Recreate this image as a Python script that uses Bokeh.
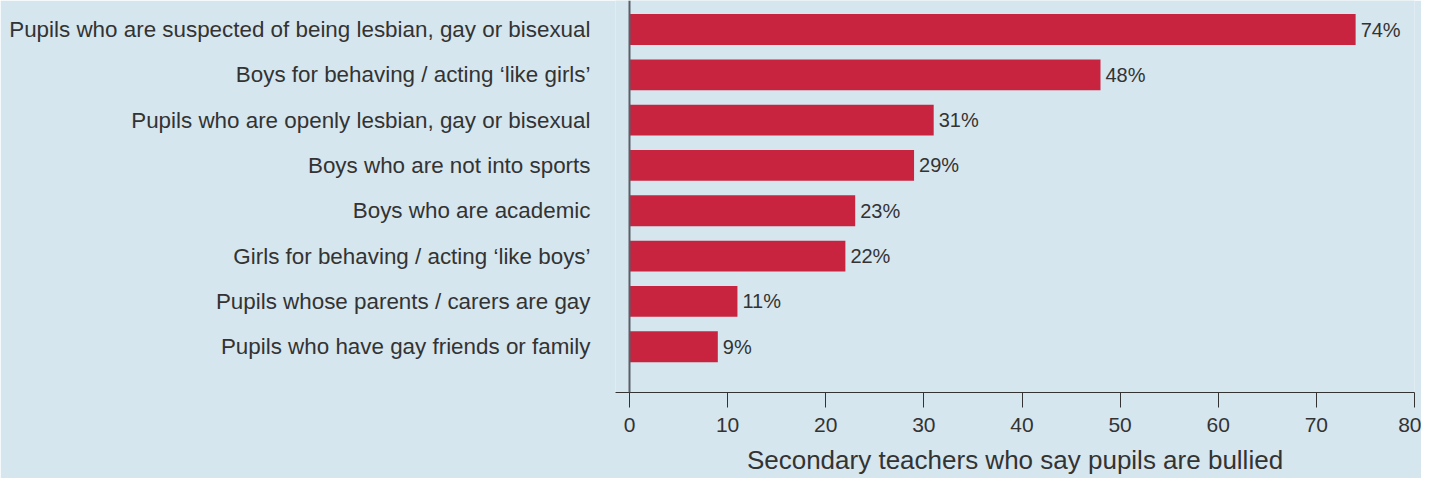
from bokeh.plotting import figure
from bokeh.models import Range1d, FixedTicker, Span, ColumnDataSource
from bokeh.core.properties import value
from bokeh.embed import file_html
from bokeh.resources import INLINE

categories = [
    "Pupils who are suspected of being lesbian, gay or bisexual",
    "Boys for behaving / acting \u2018like girls\u2019",
    "Pupils who are openly lesbian, gay or bisexual",
    "Boys who are not into sports",
    "Boys who are academic",
    "Girls for behaving / acting \u2018like boys\u2019",
    "Pupils whose parents / carers are gay",
    "Pupils who have gay friends or family",
]
values = [74, 48, 31, 29, 23, 22, 11, 9]
x_ticks = [0, 10, 20, 30, 40, 50, 60, 70, 80]
x_title = "Secondary teachers who say pupils are bullied"

BG = "#d6e6ee"
BAR = "#c82440"
TXT = "#333333"
FONT = "Liberation Sans"

idx = list(range(len(categories)))
src = ColumnDataSource(dict(
    y=idx, v=values, lab=[f"{v}%" for v in values], zero=[0] * len(values)))

p = figure(width=1421, height=478, output_backend="svg", toolbar_location=None,
           x_range=Range1d(-1.427, 80), y_range=Range1d(8.01, -0.64),
           min_border_left=615, min_border_right=7, min_border_top=0,
           min_border_bottom=86)
p.background_fill_color = BG
p.border_fill_color = BG
p.outline_line_color = None
p.xgrid.visible = False
p.ygrid.visible = False

p.hbar(y="y", left="zero", right="v", height=0.68, color=BAR, line_color=None, source=src)
p.text(x="v", y="y", text="lab", source=src, x_offset=5, text_baseline="middle",
       text_align="left", text_font=value(FONT), text_font_size="20px", text_color=TXT)

p.add_layout(Span(location=0, dimension="height", line_color="#5a5f66", line_width=2))

xa = p.xaxis[0]
xa.ticker = FixedTicker(ticks=x_ticks)
xa.minor_tick_line_color = None
xa.major_tick_out = 15
xa.major_tick_in = 0
xa.axis_line_color = TXT
xa.major_tick_line_color = TXT
xa.major_label_standoff = 10
xa.major_label_text_font = FONT
xa.major_label_text_font_size = "21px"
xa.major_label_text_color = TXT
xa.axis_label = x_title
xa.axis_label_text_font = FONT
xa.axis_label_text_font_size = "26px"
xa.axis_label_text_font_style = "normal"
xa.axis_label_text_color = TXT
xa.axis_label_standoff = 10

ya = p.yaxis[0]
ya.ticker = FixedTicker(ticks=idx)
ya.major_label_overrides = {i: c for i, c in enumerate(categories)}
ya.axis_line_color = None
ya.major_tick_line_color = None
ya.minor_tick_line_color = None
ya.major_tick_out = 0
ya.major_tick_in = 0
ya.major_label_standoff = 25
ya.major_label_text_font = FONT
ya.major_label_text_font_size = "22.4px"
ya.major_label_text_color = TXT

open("out.html", "w").write(file_html(p, INLINE))
